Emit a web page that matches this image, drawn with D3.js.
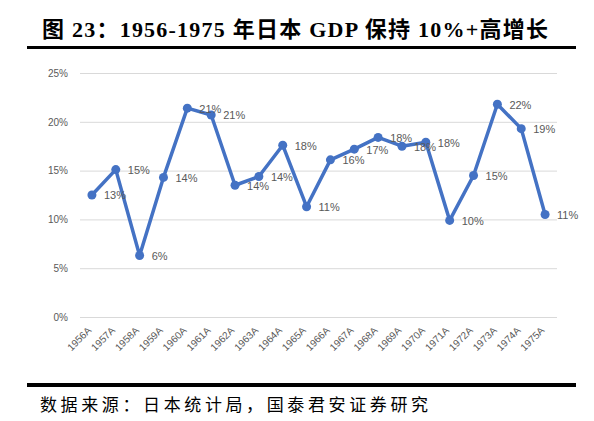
<!DOCTYPE html>
<html>
<head>
<meta charset="utf-8">
<script src="https://cdn.jsdelivr.net/npm/d3@7"></script>
<style>
  body { margin: 0; background: #fff; }
  svg { display: block; }
</style>
</head>
<body>
<div id="chart"></div>
<script>
// data
const years = ['1956A','1957A','1958A','1959A','1960A','1961A','1962A','1963A','1964A','1965A',
               '1966A','1967A','1968A','1969A','1970A','1971A','1972A','1973A','1974A','1975A']
const growth = [12.5, 15.1, 6.3, 14.3, 21.4, 20.7, 13.5, 14.4, 17.6, 11.3,
                16.1, 17.2, 18.4, 17.5, 17.9, 9.9, 14.5, 21.8, 19.3, 10.5]
const labels = ['13%','15%','6%','14%','21%','21%','14%','14%','18%','11%',
                '16%','17%','18%','18%','18%','10%','15%','22%','19%','11%']
const yTicks = [0, 5, 10, 15, 20, 25]

const W = 594, H = 421
const plot = { left: 80, right: 557, top: 73, bottom: 317 }

const svg = d3.select('#chart').append('svg')
    .attr('width', W)
    .attr('height', H)

// title + rules
svg.append('text')
    .attr('x', 42).attr('y', 37)
    .attr('font-family', '"Liberation Serif", "Noto Sans CJK SC", serif')
    .attr('font-weight', 'bold')
    .attr('font-size', 22)
    .attr('fill', '#000')
    .attr('textLength', 506)
    .attr('lengthAdjust', 'spacing')
    .text('图 23：1956-1975 年日本 GDP 保持 10%+高增长')

svg.append('rect').attr('x', 27).attr('y', 46).attr('width', 549).attr('height', 3).attr('fill', '#000')
svg.append('rect').attr('x', 27).attr('y', 383).attr('width', 549).attr('height', 4).attr('fill', '#000')

svg.append('text')
    .attr('x', 40).attr('y', 411)
    .attr('font-family', '"Liberation Serif", "Noto Sans CJK SC", serif')
    .attr('font-size', 17)
    .attr('fill', '#000')
    .attr('textLength', 388)
    .attr('lengthAdjust', 'spacing')
    .text('数据来源：日本统计局，国泰君安证券研究')

// scales
const x = d3.scaleBand().domain(years).range([plot.left, plot.right])
const y = d3.scaleLinear().domain([0, 25]).range([plot.bottom, plot.top])
const cx = d => x(d) + x.bandwidth() / 2

// gridlines + y labels
const yAxis = svg.append('g')
    .attr('transform', 'translate(' + plot.left + ',0)')
    .call(d3.axisLeft(y).tickValues(yTicks).tickSize(-(plot.right - plot.left)).tickPadding(12)
        .tickFormat(d => d + '%'))
yAxis.select('.domain').remove()
yAxis.selectAll('line').attr('stroke', '#d9d9d9').attr('stroke-width', 1)
yAxis.selectAll('text')
    .attr('fill', '#595959')
    .attr('font-family', '"Liberation Sans", Arial, sans-serif')
    .attr('font-size', 10)

// x labels (rotated)
const xAxis = svg.append('g')
    .attr('transform', 'translate(0,' + plot.bottom + ')')
    .call(d3.axisBottom(x).tickSize(0).tickPadding(0))
xAxis.select('.domain').remove()
xAxis.selectAll('text')
    .attr('fill', '#595959')
    .attr('font-family', '"Liberation Sans", Arial, sans-serif')
    .attr('font-size', 10)
    .attr('text-anchor', 'end')
    .attr('dy', null)
    .attr('y', 0)
    .attr('transform', 'translate(0,14) rotate(-45)')

// line
const line = d3.line()
    .x((d, i) => cx(years[i]))
    .y(d => y(d))

svg.append('path')
    .datum(growth)
    .attr('fill', 'none')
    .attr('stroke', '#4472C4')
    .attr('stroke-width', 3.5)
    .attr('stroke-linejoin', 'round')
    .attr('d', line)

svg.selectAll('circle.pt')
    .data(growth)
    .enter().append('circle')
    .attr('class', 'pt')
    .attr('cx', (d, i) => cx(years[i]))
    .attr('cy', d => y(d))
    .attr('r', 4.5)
    .attr('fill', '#4472C4')

// data labels, placed right of the points
svg.selectAll('text.lbl')
    .data(growth)
    .enter().append('text')
    .attr('class', 'lbl')
    .attr('x', (d, i) => cx(years[i]) + 12)
    .attr('y', d => y(d))
    .attr('dy', '0.4em')
    .attr('fill', '#595959')
    .attr('font-family', '"Liberation Sans", Arial, sans-serif')
    .attr('font-size', 11)
    .text((d, i) => labels[i])
</script>
</body>
</html>
